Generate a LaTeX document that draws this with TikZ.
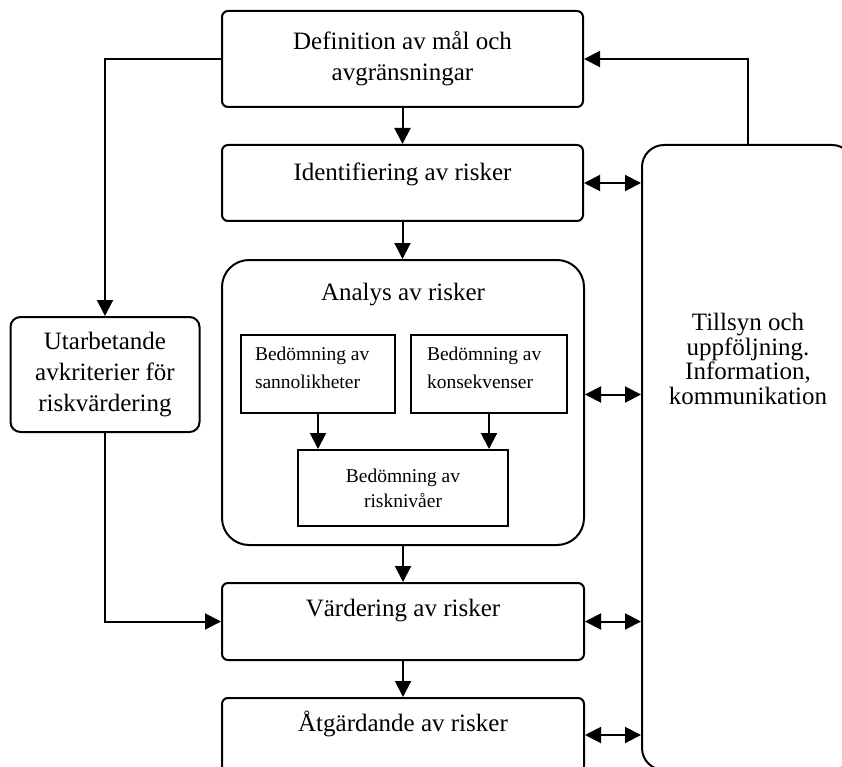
\documentclass[tikz,border=0pt]{standalone}
\usepackage{fontspec}
\setmainfont{Liberation Serif}
\usetikzlibrary{arrows.meta, positioning, calc}

\begin{document}
\begin{tikzpicture}[x = 1pt, y = -1pt, line width = 2pt,
>={Triangle[length = 16pt, width = 16pt]},
box/.style = {draw, rectangle, rounded corners = 6pt, inner sep = 0pt, align = center, font = \fontsize{25}{31}\selectfont},
smallbox/.style = {draw, rectangle, inner sep = 0pt, align = center, font = \fontsize{19.5}{25}\selectfont},
txt/.style = {anchor = center, inner sep = 0pt, align = center, font = \fontsize{25}{30}\selectfont},
smalltxt/.style = {anchor = north west, inner sep = 0pt, align = left, font = \fontsize{19.5}{28}\selectfont}]
\useasboundingbox (0, 0) rectangle (842, 767);
\clip (0, 0) rectangle (842, 767);
\node[box, minimum width = 361pt, minimum height = 96pt] at (402.5, 59) (defin) {Definition av mål och\\avgränsningar};
\node[box, minimum width = 361pt, minimum height = 76pt, label = {[txt, yshift = -30pt]north:Identifiering av risker}] at (402.5, 183) (ident) {};
\node[box, rounded corners = 27pt, minimum width = 362pt, minimum height = 285pt, label = {[txt, yshift = -36pt]north:Analys av risker}] at (403, 402.5) (analys) {};
\node[smallbox, minimum width = 154pt, minimum height = 78pt, label = {[smalltxt, xshift = 14pt, yshift = -12pt]north west:Bedömning av\\sannolikheter}] at (318, 374) (sannol) {};
\node[smallbox, minimum width = 156pt, minimum height = 78pt, label = {[smalltxt, xshift = 16pt, yshift = -12pt]north west:Bedömning av\\konsekvenser}] at (489, 374) (konsek) {};
\node[smallbox, minimum width = 210pt, minimum height = 76pt] at (403, 488) (risk) {Bedömning av\\risknivåer};
\node[box, minimum width = 362pt, minimum height = 77pt, label = {[txt, yshift = -29pt]north:Värdering av risker}] at (403, 621.5) (vard) {};
\node[box, minimum width = 362pt, minimum height = 74pt, label = {[txt, yshift = -27pt]north:Åtgärdande av risker}] at (403, 735) (atg) {};
\node[box, rounded corners = 10pt, minimum width = 189pt, minimum height = 115pt] at (105, 374.5) (utarb) {Utarbetande\\avkriterier för\\riskvärdering};
\node[box, rounded corners = 22pt, minimum width = 212pt, minimum height = 625pt, label = {[txt, yshift = -215pt, font = \fontsize{25}{24.5}\selectfont]north:Tillsyn och\\uppföljning.\\Information,\\kommunikation}] at (748, 457.5) (tills) {};
\draw[->] (defin) -- (ident);
\draw[->] (ident.south) -- (ident.south |- analys.north);
\draw[->] (sannol.south) -- (sannol.south |- risk.north);
\draw[->] (konsek.south) -- (konsek.south |- risk.north);
\draw[->] (analys.south) -- (analys.south |- vard.north);
\draw[->] (vard) -- (atg);
\draw[->] (defin.west) -| (utarb.north);
\draw[->] (utarb.south) |- (vard.west);
\draw[->] (tills.north) |- (defin.east);
\draw[<->] (ident.east) -- (ident.east -| tills.west);
\draw[<->] ([yshift = 8pt]analys.east) -- ([yshift = 8pt]analys.east -| tills.west);
\draw[<->] (vard.east) -- (vard.east -| tills.west);
\draw[<->] (atg.east) -- (atg.east -| tills.west);
\end{tikzpicture}
\end{document}
